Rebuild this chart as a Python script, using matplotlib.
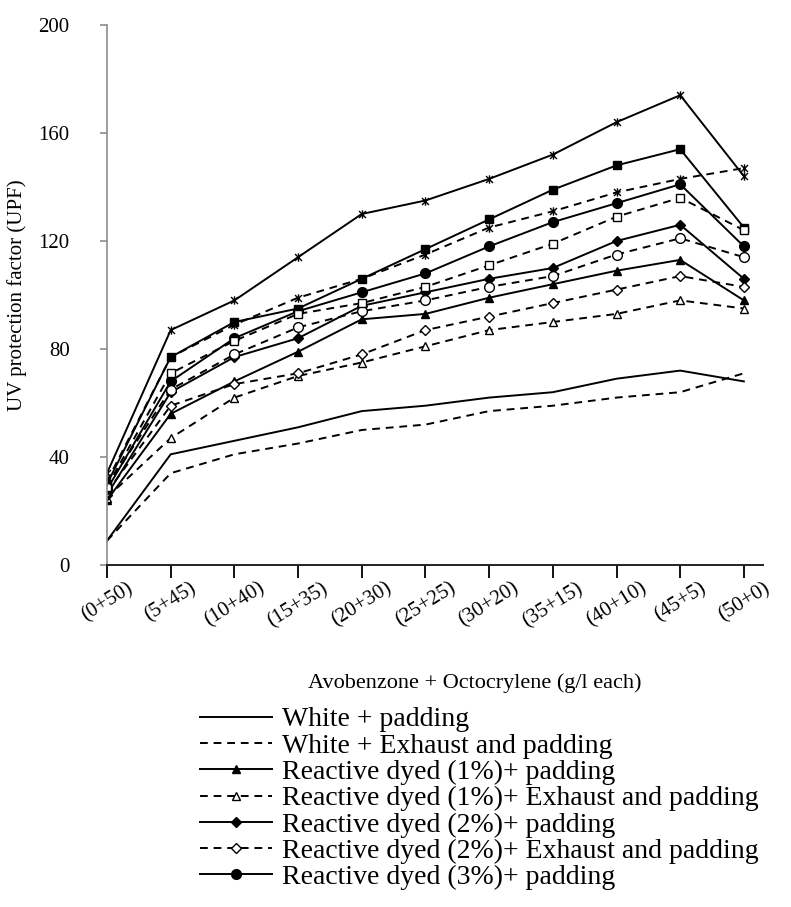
import numpy as np
import matplotlib
matplotlib.use("Agg")
import matplotlib.pyplot as plt
from matplotlib.path import Path
import matplotlib.transforms as mtransforms

plt.rcParams["font.family"] = ["Liberation Serif", "DejaVu Serif"]

# ---- data ----
categories = ["(0+50)", "(5+45)", "(10+40)", "(15+35)", "(20+30)", "(25+25)",
              "(30+20)", "(35+15)", "(40+10)", "(45+5)", "(50+0)"]

white_pad = [9, 41, 46, 51, 57, 59, 62, 64, 69, 72, 68]
white_exh = [9, 34, 41, 45, 50, 52, 57, 59, 62, 64, 71]
r1_pad = [24, 56, 68, 79, 91, 93, 99, 104, 109, 113, 98]
r1_exh = [25, 47, 62, 70, 75, 81, 87, 90, 93, 98, 95]
r2_pad = [26, 64, 77, 84, 96, 101, 106, 110, 120, 126, 106]
r2_exh = [27, 59, 67, 71, 78, 87, 92, 97, 102, 107, 103]
r3_pad = [28, 68, 84, 94, 101, 108, 118, 127, 134, 141, 118]
r3_exh = [29, 65, 78, 88, 94, 98, 103, 107, 115, 121, 114]
r4_pad = [30, 77, 90, 95, 106, 117, 128, 139, 148, 154, 125]
r4_exh = [29, 71, 83, 93, 97, 103, 111, 119, 129, 136, 124]
r5_pad = [34, 87, 98, 114, 130, 135, 143, 152, 164, 174, 144]
r5_exh = [31, 77, 89, 99, 106, 115, 125, 131, 138, 143, 147]

legend_labels = ["White + padding",
                 "White + Exhaust and padding",
                 "Reactive dyed (1%)+ padding",
                 "Reactive dyed (1%)+ Exhaust and padding",
                 "Reactive dyed (2%)+ padding",
                 "Reactive dyed (2%)+ Exhaust and padding",
                 "Reactive dyed (3%)+ padding"]

# asterisk marker: x with a vertical bar
STAR = Path([(-1, -1), (1, 1), (-1, 1), (1, -1), (0, -1.2), (0, 1.2)],
            [Path.MOVETO, Path.LINETO, Path.MOVETO, Path.LINETO, Path.MOVETO, Path.LINETO])

SOLID = "-"
DASH = (0, (4, 3))

series = [
    (white_pad, SOLID, None, "black", 0),
    (white_exh, DASH, None, "black", 0),
    (r1_pad, SOLID, "^", "black", 6),
    (r1_exh, DASH, "^", "white", 6),
    (r2_pad, SOLID, "D", "black", 5),
    (r2_exh, DASH, "D", "white", 5),
    (r3_pad, SOLID, "o", "black", 7),
    (r3_exh, DASH, "o", "white", 7),
    (r4_pad, SOLID, "s", "black", 6),
    (r4_exh, DASH, "s", "white", 6),
    (r5_pad, SOLID, STAR, "black", 6),
    (r5_exh, DASH, STAR, "black", 6),
]

fig = plt.figure(figsize=(7.91, 9.07), dpi=100)
ax = fig.add_axes([107 / 791, 1 - 565 / 907, (763 - 107) / 791, (565 - 25) / 907])

x = np.arange(len(categories))
handles = []
for vals, ls, mk, fc, ms in series:
    h, = ax.plot(x, vals, linestyle=ls, color="black", linewidth=1.4,
                 marker=mk, markersize=ms, markerfacecolor=fc,
                 markeredgecolor="black", markeredgewidth=1.0)
    handles.append(h)

ax.set_xlim(0, 10.3)
ax.set_ylim(0, 200)
ax.set_yticks(np.arange(0, 201, 40))
ax.set_xticks(x)
ax.set_xticklabels(categories, rotation=32, ha="center", va="top", fontsize=15)
offset = mtransforms.ScaledTranslation(7 / 100, 0, fig.dpi_scale_trans)
for lbl in ax.get_xticklabels():
    lbl.set_transform(lbl.get_transform() + offset)

for s in ["top", "right"]:
    ax.spines[s].set_visible(False)
ax.spines["left"].set_color("#8c8c8c")
ax.spines["left"].set_linewidth(1.2)
ax.spines["bottom"].set_color("#222222")
ax.spines["bottom"].set_linewidth(1.4)
ax.tick_params(axis="y", direction="out", length=5, width=1.2, color="#8c8c8c",
               labelsize=15, pad=22)
ax.tick_params(axis="x", direction="out", length=9, width=1.3, color="black", pad=1)

ax.set_ylabel("UV protection factor (UPF)", fontsize=15, labelpad=8)
fig.text(475 / 791, 1 - 683 / 907, "Avobenzone + Octocrylene (g/l each)",
         fontsize=16, ha="center", va="center")

fig.legend(handles[:7], legend_labels, loc="upper left",
           bbox_to_anchor=(200 / 791, 1 - 707 / 907), frameon=False,
           fontsize=20, handlelength=2.6, handletextpad=0.36,
           labelspacing=0.03, borderpad=0, borderaxespad=0)

fig.savefig("out.png", dpi=100)
